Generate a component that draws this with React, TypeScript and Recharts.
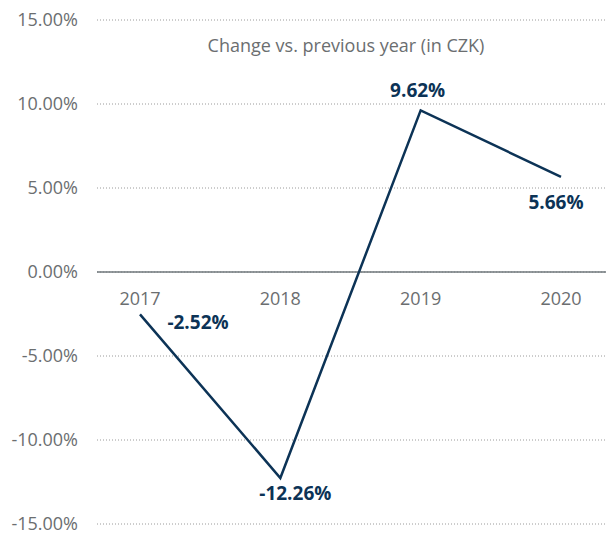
import React from "react";
import { LineChart, Line, XAxis, YAxis, CartesianGrid, ReferenceLine, LabelList } from "recharts";

const years = ["2017", "2018", "2019", "2020"];
const changes = [-2.52, -12.26, 9.62, 5.66];
const yTicks = [-15, -10, -5, 0, 5, 10, 15];
const title = "Change vs. previous year (in CZK)";

const data = years.map((y, i) => ({ year: y, value: changes[i] }));

const W = 606;
const H = 533;
const M = { top: 20, right: 0, bottom: 9, left: 0 };
const Y_AXIS_W = 97;
const FONT = "'Open Sans', sans-serif";
const NAVY = "#0c3356";
const GRAY = "#6b6e70";

const plotH = H - M.top - M.bottom;
const zeroY = M.top + plotH * (15 / 30);

const fmt = (v: number) => `${v.toFixed(2)}%`;

const labelOffsets = [
  { dx: 58, dy: 8 },
  { dx: 15, dy: 15 },
  { dx: -3, dy: -20 },
  { dx: -5, dy: 25 },
];

const PointLabel = (props: any) => {
  const { x, y, value, index } = props;
  const o = labelOffsets[index] || { dx: 0, dy: 0 };
  return (
    <text
      x={x + o.dx}
      y={y + o.dy}
      textAnchor="middle"
      dominantBaseline="central"
      fontFamily={FONT}
      fontWeight={700}
      fontSize={19}
      fill={NAVY}
    >
      {fmt(value)}
    </text>
  );
};

const YearLabel = (props: any) => {
  const { x, value } = props;
  return (
    <text
      x={x}
      y={zeroY + 26}
      textAnchor="middle"
      dominantBaseline="central"
      fontFamily={FONT}
      fontSize={18}
      fill={GRAY}
    >
      {value}
    </text>
  );
};

export default function App() {
  return (
    <div style={{ position: "absolute", left: 0, top: 0, width: W, height: H, background: "#fff" }}>
      <LineChart width={W} height={H} data={data} margin={M}>
        <CartesianGrid vertical={false} stroke="#9a9a9a" strokeDasharray="1 2" />
        <XAxis
          dataKey="year"
          scale="point"
          padding={{ left: 43, right: 45 }}
          axisLine={false}
          tickLine={false}
          tick={false}
          height={0}
        />
        <YAxis
          domain={[-15, 15]}
          ticks={yTicks}
          interval={0}
          width={Y_AXIS_W}
          axisLine={false}
          tickLine={false}
          tickSize={0}
          tickMargin={19}
          tickFormatter={fmt}
          tick={{ fontFamily: FONT, fontSize: 18, fill: GRAY }}
        />
        <ReferenceLine y={0} stroke="#6f777b" strokeWidth={1.5} />
        <Line
          type="linear"
          dataKey="value"
          stroke={NAVY}
          strokeWidth={2.5}
          dot={false}
          isAnimationActive={false}
        >
          <LabelList dataKey="value" content={<PointLabel />} />
          <LabelList dataKey="year" content={<YearLabel />} />
        </Line>
        <text
          x={346}
          y={45}
          textAnchor="middle"
          dominantBaseline="central"
          fontFamily={FONT}
          fontSize={18}
          fill={GRAY}
        >
          {title}
        </text>
      </LineChart>
    </div>
  );
}
